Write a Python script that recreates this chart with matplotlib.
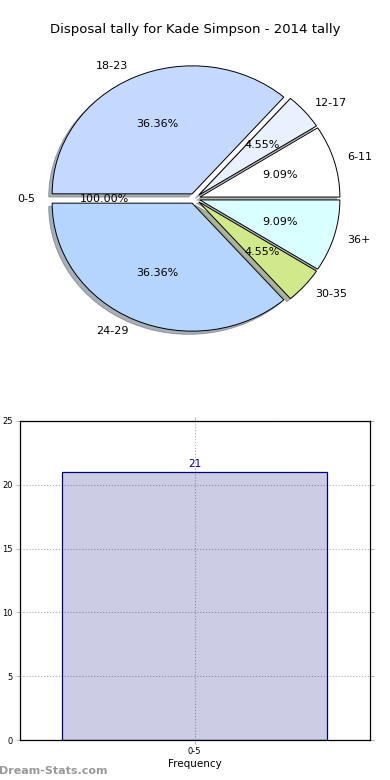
import matplotlib
matplotlib.use("Agg")
import matplotlib.pyplot as plt
from matplotlib.patches import Shadow

# pie data (in drawing order, counter-clockwise from 0 deg)
pie_labels = ['6-11', '12-17', '18-23', '0-5', '24-29', '30-35', '36+']
pie_values = [2, 1, 8, 0, 8, 1, 2]
pie_pcts = ['9.09%', '4.55%', '36.36%', '100.00%', '36.36%', '4.55%', '9.09%']
pie_colors = ['#ffffff', '#e9f1ff', '#c5d9ff', '#c0d8ff', '#b5d5ff', '#d0e98a', '#d9ffff']

# bar data
bar_cats = ['0-5']
bar_vals = [21]

title = 'Disposal tally for Kade Simpson - 2014 tally'

fig = plt.figure(figsize=(3.9, 7.8), dpi=100)
W, H = 390.0, 780.0

fig.text(0.5, 1 - 30 / H, title, ha='center', va='center', fontsize=9.5)

# pie axes: centre ~ (194.5, 198.5) px, rx ~ 140, ry ~ 128
cx, cy, rx, ry = 194.5, 198.5, 140.0, 128.0
lim = 1.3
axw, axh = 2 * lim * rx, 2 * lim * ry
ax1 = fig.add_axes([(cx - axw / 2) / W, 1 - (cy + axh / 2) / H, axw / W, axh / H])
wedges, texts, autotexts = ax1.pie(
    pie_values, labels=pie_labels, colors=pie_colors,
    explode=[0.04] * len(pie_values),
    shadow={'ox': -0.018, 'oy': -0.018, 'shade': 0.55},
    autopct='%1.2f%%', pctdistance=0.6, labeldistance=1.1,
    wedgeprops=dict(edgecolor='black', linewidth=0.7),
    textprops=dict(fontsize=8))
for t, p in zip(autotexts, pie_pcts):
    t.set_text(p)
# the empty wedge leaves no visible mark, only its texts
for i, v in enumerate(pie_values):
    if v == 0:
        wedges[i].set_visible(False)
        for p in ax1.patches:
            if isinstance(p, Shadow) and p.patch is wedges[i]:
                p.set_visible(False)
ax1.set_aspect('auto')
ax1.set_xlim(-lim, lim)
ax1.set_ylim(-lim, lim)

# bar axes
left, right, top, bottom = 19.5, 370.0, 421.0, 740.0
ax2 = fig.add_axes([left / W, 1 - bottom / H, (right - left) / W, (bottom - top) / H])
xpos = list(range(len(bar_cats)))
ax2.bar(xpos, bar_vals, width=0.8, color='navy', alpha=0.2, zorder=2)
ax2.bar(xpos, bar_vals, width=0.8, facecolor='none', edgecolor='navy', linewidth=0.9, zorder=3)
for x, v in zip(xpos, bar_vals):
    ax2.text(x, v + 0.25, str(v), ha='center', va='bottom', color='navy', fontsize=7.5)
ax2.set_xlim(-0.53, 0.53)
ax2.set_ylim(0, 25)
ax2.set_xticks(xpos)
ax2.set_xticklabels(bar_cats)
ax2.set_yticks([0, 5, 10, 15, 20, 25])
ax2.tick_params(labelsize=6, length=3, width=0.5, color='#999999', right=True, top=True, pad=2)
ax2.grid(True, linestyle=':', color='#b0b0b0', linewidth=0.8, zorder=1)
ax2.set_axisbelow(True)
for s in ax2.spines.values():
    s.set_linewidth(0.9)
ax2.set_xlabel('Frequency', fontsize=7.5, labelpad=2)
fig.text(1.5 / W, 1 - 575 / H, 'Disposal Tally', rotation=90, ha='right', va='center', fontsize=7.5)

fig.text(-1 / W, 1 - 771 / H, 'Dream-Stats.com', ha='left', va='center',
         fontsize=8, color='#999999', fontweight='bold')

fig.savefig('out.png', dpi=100)
